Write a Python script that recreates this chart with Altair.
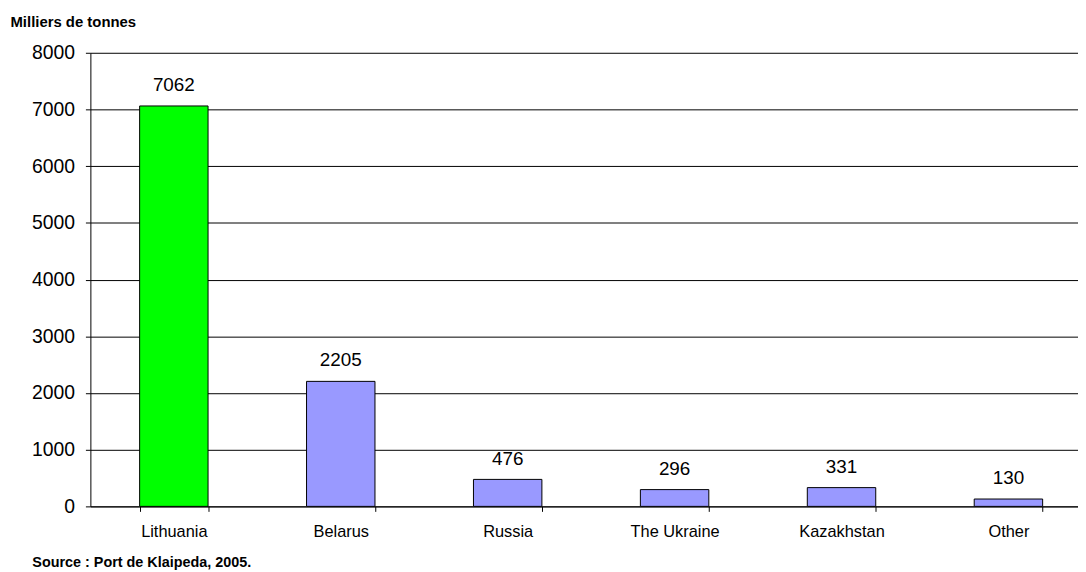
import altair as alt
import pandas as pd

categories = ["Lithuania", "Belarus", "Russia", "The Ukraine", "Kazakhstan", "Other"]
values = [7062, 2205, 476, 296, 331, 130]
bar_colors = ["#00FF00", "#9999FF", "#9999FF", "#9999FF", "#9999FF", "#9999FF"]
y_ticks = [0, 1000, 2000, 3000, 4000, 5000, 6000, 7000, 8000]

df = pd.DataFrame({"country": categories, "value": values, "color": bar_colors})

FONT = "Liberation Sans"

x_enc = alt.X(
    "country:N",
    sort=categories,
    scale=alt.Scale(range=[0, 1009], paddingInner=0.59, paddingOuter=0.295),
    axis=alt.Axis(
        title="Source : Port de Klaipeda, 2005.",
        titleX=-59, titleY=57, titleAlign="left", titleBaseline="middle",
        titleFont=FONT, titleFontSize=14.5, titleFontWeight="bold", titleColor="black",
        labelAngle=0, labelFont=FONT, labelFontSize=16.5, labelColor="black",
        labelPadding=12, tickBand="extent", tickSize=5, tickColor="black",
        domainColor="black", grid=False,
    ),
)

y_enc = alt.Y(
    "value:Q",
    scale=alt.Scale(domain=[0, 8000], nice=False),
    axis=alt.Axis(
        values=y_ticks, format="d",
        title="Milliers de tonnes", titleAngle=0, titleX=-81, titleY=-31,
        titleAlign="left", titleBaseline="middle",
        titleFont=FONT, titleFontSize=15, titleFontWeight="bold", titleColor="black",
        labelFont=FONT, labelFontSize=19.5, labelColor="black", labelPadding=11,
        tickSize=5, tickColor="black", domainColor="black",
        grid=True, gridColor="black", gridWidth=1,
    ),
)

bars = alt.Chart(df).mark_bar(stroke="black", strokeWidth=1).encode(
    x=x_enc,
    y=y_enc,
    color=alt.Color("color:N", scale=None),
)

labels = alt.Chart(df).mark_text(
    baseline="alphabetic", dy=-15, font=FONT, fontSize=19, color="black"
).encode(
    x=alt.X("country:N", sort=categories),
    y=alt.Y("value:Q"),
    text=alt.Text("value:Q", format="d"),
)

chart = (
    alt.layer(bars, labels)
    .properties(
        width=993,
        height=457,
        autosize=alt.AutoSizeParams(type="none"),
        padding={"left": 83, "top": 43, "right": 2, "bottom": 66},
        background="white",
    )
    .configure_view(stroke=None)
)

chart.save("out.html", embed_options={"renderer": "svg", "actions": False})
